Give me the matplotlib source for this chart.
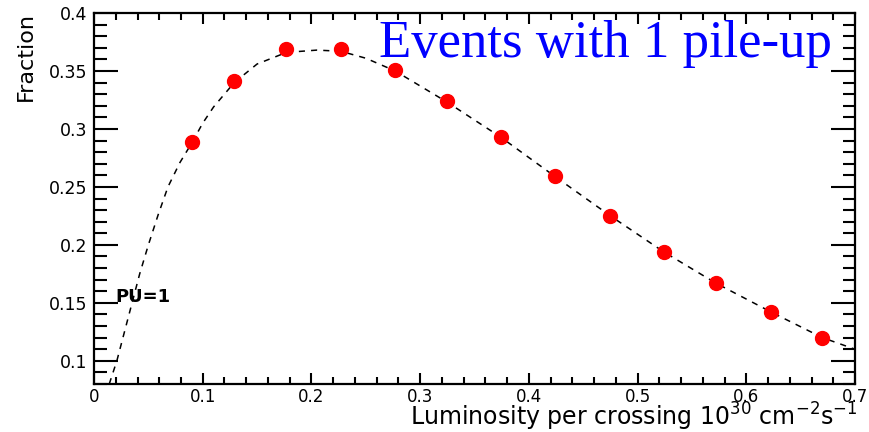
import numpy as np
import matplotlib.pyplot as plt
from matplotlib.ticker import MultipleLocator

# Fraction of events with exactly 1 pile-up vs luminosity per crossing

# measured points (red dots)
lumi = [0.090, 0.129, 0.177, 0.227, 0.277, 0.325, 0.374, 0.424, 0.475, 0.524, 0.572, 0.623, 0.670]
frac = [0.289, 0.341, 0.369, 0.369, 0.351, 0.324, 0.293, 0.259, 0.225, 0.194, 0.167, 0.142, 0.120]
frac_err = [0.003, 0.002, 0.002, 0.002, 0.002, 0.002, 0.002, 0.002, 0.002, 0.002, 0.002, 0.002, 0.002]

# dashed curve
curve_x = [0.014, 0.021, 0.028, 0.035, 0.042, 0.050, 0.059, 0.068, 0.079, 0.090, 0.100, 0.110,
           0.129, 0.150, 0.177, 0.205, 0.227, 0.250, 0.277, 0.325, 0.374, 0.424, 0.475,
           0.524, 0.572, 0.623, 0.670, 0.700]
curve_y = [0.080, 0.100, 0.125, 0.150, 0.175, 0.200, 0.226, 0.250, 0.271, 0.288, 0.305, 0.319,
           0.340, 0.356, 0.366, 0.368, 0.367, 0.361, 0.350, 0.323, 0.293, 0.259, 0.225,
           0.194, 0.167, 0.142, 0.120, 0.110]

fig = plt.figure(figsize=(8.69, 4.32), dpi=100)
ax = fig.add_axes([0.1082, 0.1111, 0.8757, 0.8588])

ax.plot(curve_x, curve_y, color='black', lw=1.1, dashes=(4, 4), zorder=2)
ax.errorbar(lumi, frac, yerr=frac_err, fmt='o', color='red', ecolor='black',
            markersize=10, elinewidth=1.2, capsize=0, zorder=3)

ax.set_xlim(0, 0.7)
ax.set_ylim(0.08, 0.4)

ax.xaxis.set_major_locator(MultipleLocator(0.1))
ax.xaxis.set_minor_locator(MultipleLocator(0.02))
ax.yaxis.set_major_locator(MultipleLocator(0.05))
ax.yaxis.set_minor_locator(MultipleLocator(0.01))
ax.xaxis.set_major_formatter(plt.FuncFormatter(lambda v, p: '0' if abs(v) < 1e-9 else '%g' % round(v, 2)))
ax.yaxis.set_major_formatter(plt.FuncFormatter(lambda v, p: '%g' % round(v, 2)))

ax.tick_params(axis='both', which='both', direction='in', top=True, right=True,
               width=1.5, labelsize=12.5, colors='black')
ax.tick_params(axis='x', labelsize=12)
ax.tick_params(axis='y', which='major', length=17)
ax.tick_params(axis='y', which='minor', length=9)
ax.tick_params(axis='x', which='major', length=8)
ax.tick_params(axis='x', which='minor', length=5)
ax.tick_params(axis='x', pad=3)
ax.tick_params(axis='y', pad=5)
for s in ax.spines.values():
    s.set_linewidth(1.6)

ax.set_ylabel('Fraction', fontsize=16, ha='right')
ax.yaxis.set_label_coords(-0.076, 1.003)
ax.set_xlabel(r'Luminosity per crossing 10$^{30}$ cm$^{-2}$s$^{-1}$', fontsize=17,
              ha='right', va='baseline')
ax.xaxis.set_label_coords(1.003, -0.113)

ax.text(0.97, 0.881, 'Events with 1 pile-up', transform=ax.transAxes,
        family='Liberation Serif', fontsize=38, color='blue', ha='right', va='baseline')
ax.text(0.020, 0.155, 'PU=1', fontsize=13, fontweight='bold', ha='left', va='center')

plt.savefig('out.png', dpi=100)
